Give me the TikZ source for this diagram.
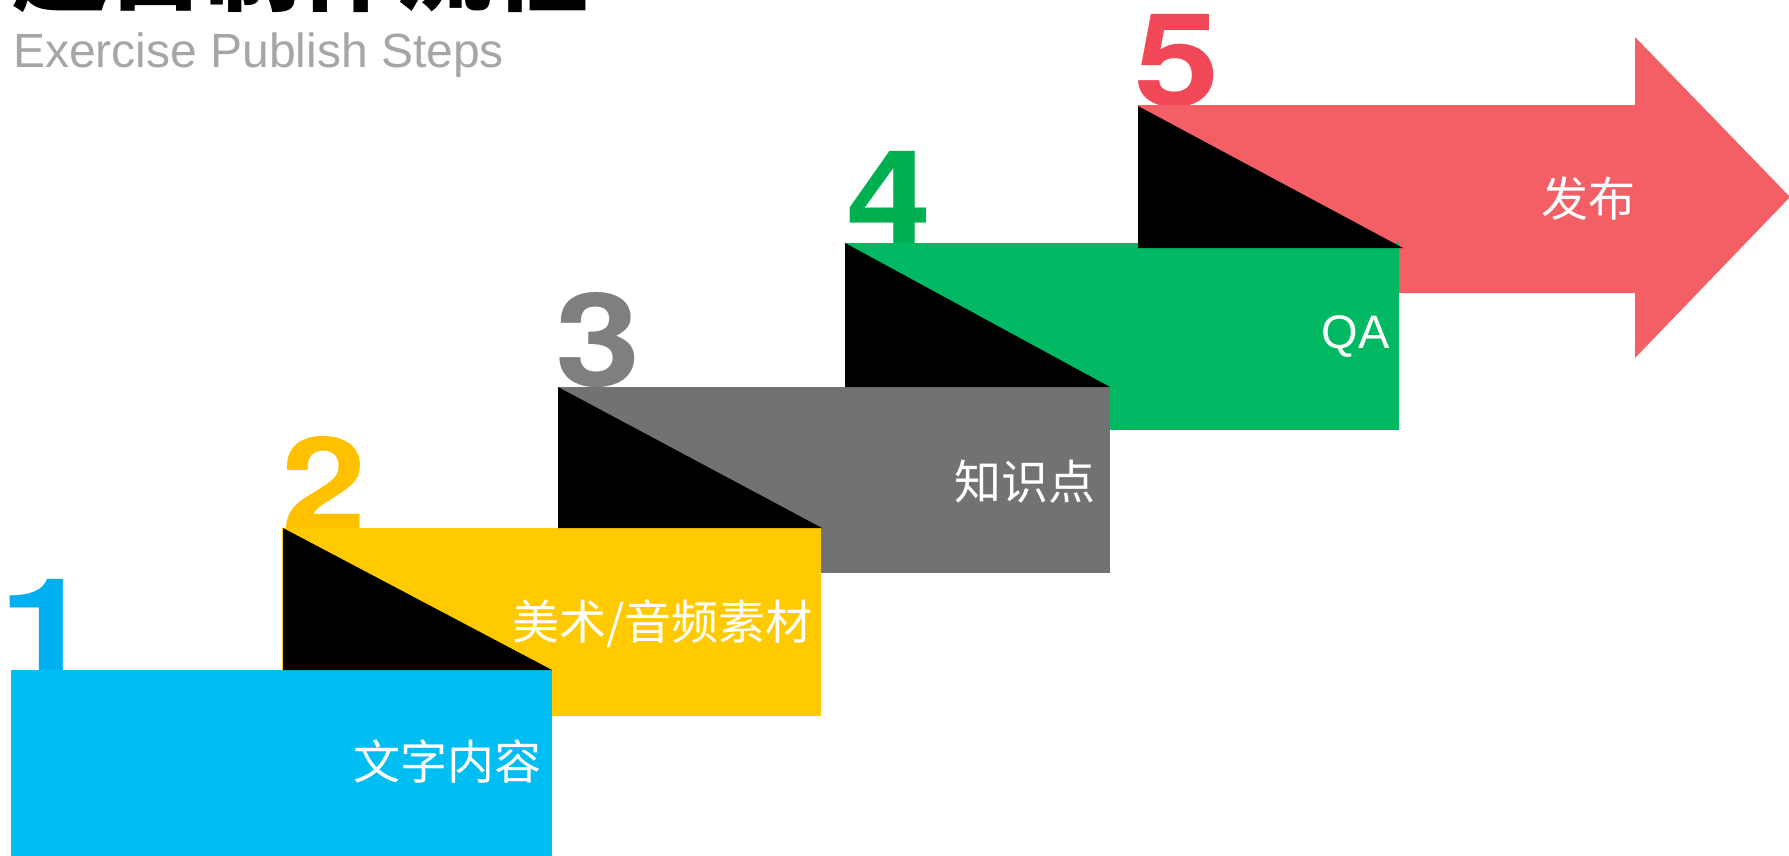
\documentclass[tikz,border=0pt]{standalone}
\usepackage{fontspec}
\setmainfont{Liberation Sans}
\newfontfamily\cjk{Noto Sans CJK SC}
\newfontfamily\digitfont{TeX Gyre Heros}[FakeStretch=1.18]
\newfontfamily\digitwide{TeX Gyre Heros}[FakeStretch=1.32]
\definecolor{cBlue}{HTML}{00BEF2}
\definecolor{dBlue}{HTML}{00B0F0}
\definecolor{cYellow}{HTML}{FFCA00}
\definecolor{dYellow}{HTML}{FFC000}
\definecolor{cGray}{HTML}{727272}
\definecolor{dGray}{HTML}{7F7F7F}
\definecolor{cGreen}{HTML}{00B962}
\definecolor{dGreen}{HTML}{00B050}
\definecolor{cRed}{HTML}{F45F66}
\definecolor{dRed}{HTML}{F04857}
\definecolor{subGray}{HTML}{A6A6A6}
\begin{document}
\begin{tikzpicture}[x=1pt,y=-1pt,
  digit/.style={anchor=base west,inner sep=0pt,font=\digitfont\bfseries\fontsize{130}{130}\selectfont},
  steplabel/.style={anchor=east,inner sep=0pt,text=white,font=\cjk\fontsize{47}{47}\selectfont},
  shade/.style={fill=black}]
\useasboundingbox (0,0) rectangle (1789,855);
\clip (0,0) rectangle (1789,855);
% title
\node[anchor=base west,inner sep=0pt,font=\cjk\bfseries\fontsize{96}{96}\selectfont] (title) at (12,3) {题目制作流程};
\node[anchor=base west,inner sep=0pt,text=subGray,font=\fontsize{48}{48}\selectfont] (subtitle) at (13,67) {Exercise Publish Steps};
% digits
\node[digit,text=dBlue,font=\digitwide\bfseries\fontsize{130}{130}\selectfont] (d1) at (-2,671) {1};
\node[digit,text=dYellow] (d2) at (281,530) {2};
\node[digit,text=dGray] (d3) at (555,386) {3};
\node[digit,text=dGreen] (d4) at (846,243) {4};
\node[digit,text=dRed] (d5) at (1134,106) {5};
% shapes
\fill[cRed] (1138,105) -- (1635,105) -- (1635,37) -- (1790,197) -- (1635,358) -- (1635,293) -- (1138,293) -- cycle;
\fill[cGreen] (845,243) rectangle (1399,430);
\fill[cGray] (558,387) rectangle (1110,573);
\fill[cYellow] (282,528) rectangle (821,716);
\fill[cBlue] (11,670) rectangle (552,856);
% black triangles
\fill[shade] (283,528) -- (283,670) -- (552,670) -- cycle;
\fill[shade] (558,387) -- (558,528) -- (822,528) -- cycle;
\fill[shade] (845,243) -- (845,387) -- (1110,387) -- cycle;
\fill[shade] (1138,106) -- (1138,248) -- (1403,248) -- cycle;
% labels
\node[steplabel] (l1) at (542,762) {文字内容};
\node[steplabel] (l2) at (813,624) {美术/音频素材};
\node[steplabel] (l3) at (1096,482) {知识点};
\node[steplabel,font=\fontsize{47}{47}\selectfont] (l4) at (1390,337) {QA};
\node[steplabel] (l5) at (1636,199) {发布};
\end{tikzpicture}
\end{document}
